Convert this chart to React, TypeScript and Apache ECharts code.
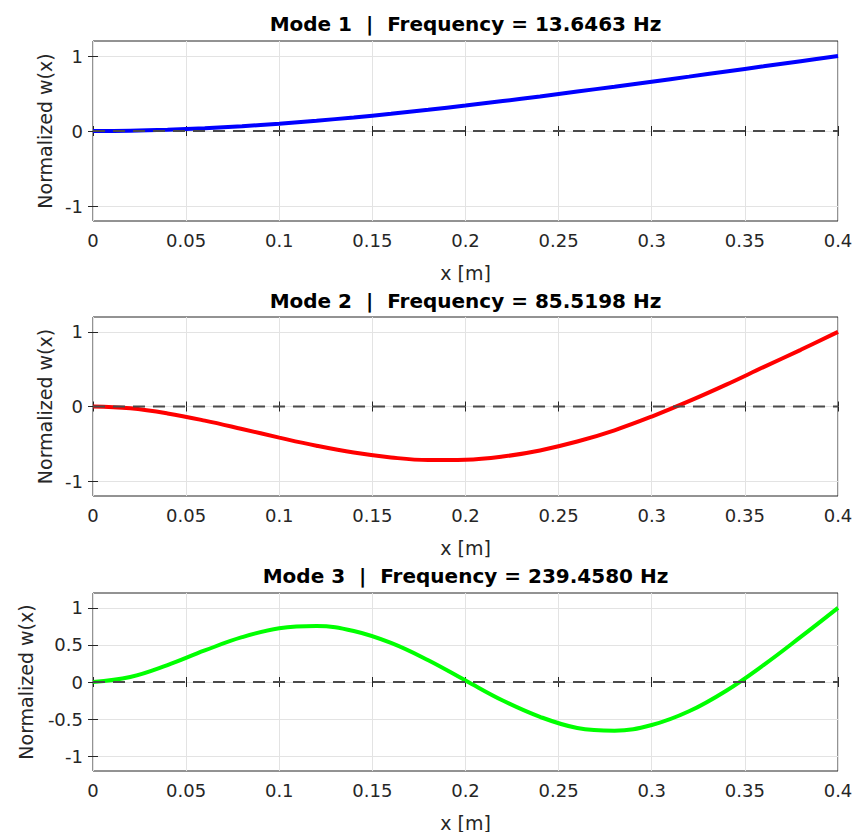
import React, { useEffect, useRef } from "react";
import * as echarts from "echarts";

// ---- data ----
const xPos = [0, 0.02, 0.04, 0.06, 0.08, 0.1, 0.12, 0.14, 0.16, 0.18, 0.2, 0.22, 0.24, 0.26, 0.28, 0.3, 0.32, 0.34, 0.36, 0.38, 0.4];
const mode1 = [0, 0.004, 0.017, 0.037, 0.064, 0.097, 0.137, 0.181, 0.23, 0.283, 0.339, 0.399, 0.461, 0.526, 0.591, 0.658, 0.725, 0.794, 0.862, 0.931, 1.0];
const mode2 = [0, -0.025, -0.093, -0.189, -0.301, -0.417, -0.526, -0.618, -0.683, -0.717, -0.713, -0.671, -0.589, -0.47, -0.319, -0.135, 0.071, 0.293, 0.528, 0.76, 1.0];
const mode3 = [0, 0.067, 0.228, 0.425, 0.604, 0.724, 0.756, 0.688, 0.527, 0.293, 0.02, -0.25, -0.47, -0.62, -0.657, -0.58, -0.395, -0.117, 0.228, 0.608, 1.0];
const modeTitles = [
  "Mode 1  |  Frequency = 13.6463 Hz",
  "Mode 2  |  Frequency = 85.5198 Hz",
  "Mode 3  |  Frequency = 239.4580 Hz",
];
const xName = "x [m]";
const yName = "Normalized w(x)";
const xMin = 0;
const xMax = 0.4;
const xInterval = 0.05;
const yMin = -1.2;
const yMax = 1.2;
const yTicksCoarse = [-1, 0, 1];
const yTicksFine = [-1, -0.5, 0, 0.5, 1];
const zeroX = [0, 0.4];
const zeroY = [0, 0];

// ---- layout / style ----
const FONT = "DejaVu Sans";
const AXIS_COLOR = "#262626";
const GRID_COLOR = "#e3e3e3";
const plotLeft = 93;
const plotWidth = 745;
const plotTops = [41, 317, 593];
const plotHeights = [180, 179, 178];
const titleYs = [23.5, 300.5, 575.5];
const yNameGaps = [38, 38, 58];
const curveColors = ["#0000ff", "#ff0000", "#00ff00"];

export default function App() {
  const ref = useRef<HTMLDivElement>(null);
  useEffect(() => {
    if (!ref.current) return;
    const chart = echarts.init(ref.current, undefined, { renderer: "svg" });
    const modes = [mode1, mode2, mode3];
    const yTicksPer = [yTicksCoarse, yTicksCoarse, yTicksFine];

    const grids = plotTops.map((t, i) => ({
      left: plotLeft,
      top: t,
      width: plotWidth,
      height: plotHeights[i],
      show: true,
      borderColor: AXIS_COLOR,
      borderWidth: 1,
      backgroundColor: "transparent",
      containLabel: false,
      outerBoundsMode: "none",
    }));

    const xAxes: any[] = [];
    const yAxes: any[] = [];
    for (let i = 0; i < 3; i++) {
      xAxes.push({
        type: "value",
        gridIndex: i,
        position: "bottom",
        min: xMin,
        max: xMax,
        interval: xInterval,
        name: xName,
        nameLocation: "middle",
        nameGap: 42,
        nameTextStyle: { fontFamily: FONT, fontSize: 19, color: AXIS_COLOR },
        axisLine: { show: false },
        axisTick: { show: true, inside: true, length: 5, lineStyle: { color: AXIS_COLOR, width: 1 } },
        axisLabel: { show: true, margin: 10, fontFamily: FONT, fontSize: 18, color: AXIS_COLOR, hideOverlap: false },
        splitLine: { show: true, lineStyle: { color: GRID_COLOR, width: 1 } },
      });
    }
    for (let i = 0; i < 3; i++) {
      xAxes.push({
        type: "value",
        gridIndex: i,
        position: "top",
        min: xMin,
        max: xMax,
        interval: xInterval,
        axisLine: { show: false },
        axisTick: { show: true, inside: true, length: 5, lineStyle: { color: AXIS_COLOR, width: 1 } },
        axisLabel: { show: false },
        splitLine: { show: false },
      });
    }
    for (let i = 0; i < 3; i++) {
      yAxes.push({
        type: "value",
        gridIndex: i,
        position: "left",
        min: yMin,
        max: yMax,
        name: yName,
        nameLocation: "middle",
        nameGap: yNameGaps[i],
        nameRotate: 90,
        nameTextStyle: { fontFamily: FONT, fontSize: 19, color: AXIS_COLOR },
        axisLine: { show: false },
        axisTick: { show: true, inside: true, length: 5, customValues: yTicksPer[i], lineStyle: { color: AXIS_COLOR, width: 1 } },
        axisLabel: { show: true, margin: 10, customValues: yTicksPer[i], fontFamily: FONT, fontSize: 18, color: AXIS_COLOR },
        splitLine: { show: true, lineStyle: { color: GRID_COLOR, width: 1 } },
      });
    }
    for (let i = 0; i < 3; i++) {
      yAxes.push({
        type: "value",
        gridIndex: i,
        position: "right",
        min: yMin,
        max: yMax,
        axisLine: { show: false },
        axisTick: { show: true, inside: true, length: 5, customValues: yTicksPer[i], lineStyle: { color: AXIS_COLOR, width: 1 } },
        axisLabel: { show: false, customValues: yTicksPer[i] },
        splitLine: { show: false },
      });
    }

    const series: any[] = [];
    for (let i = 0; i < 3; i++) {
      series.push({
        type: "line",
        xAxisIndex: i,
        yAxisIndex: i,
        data: xPos.map((x, k) => [x, modes[i][k]]),
        smooth: 0.4,
        symbol: "none",
        silent: true,
        lineStyle: { color: curveColors[i], width: 4 },
        z: 3,
      });
      series.push({
        type: "line",
        xAxisIndex: i,
        yAxisIndex: i,
        data: zeroX.map((x, k) => [x, zeroY[k]]),
        symbol: "none",
        silent: true,
        lineStyle: { color: "#4a4a4a", width: 2, type: [12, 8] },
        z: 4,
      });
    }

    const graphic = modeTitles.map((t, i) => ({
      type: "text",
      x: plotLeft + plotWidth / 2,
      y: titleYs[i],
      style: {
        text: t,
        fill: "#000000",
        fontFamily: FONT,
        fontSize: 20,
        fontWeight: "bold",
        align: "center",
        verticalAlign: "middle",
      },
    }));

    chart.setOption({
      animation: false,
      backgroundColor: "#ffffff",
      grid: grids,
      xAxis: xAxes,
      yAxis: yAxes,
      series,
      graphic,
    });
    return () => chart.dispose();
  }, []);
  return (
    <div
      ref={ref}
      style={{ position: "fixed", left: 0, top: 0, width: 857, height: 832, background: "#ffffff" }}
    />
  );
}
